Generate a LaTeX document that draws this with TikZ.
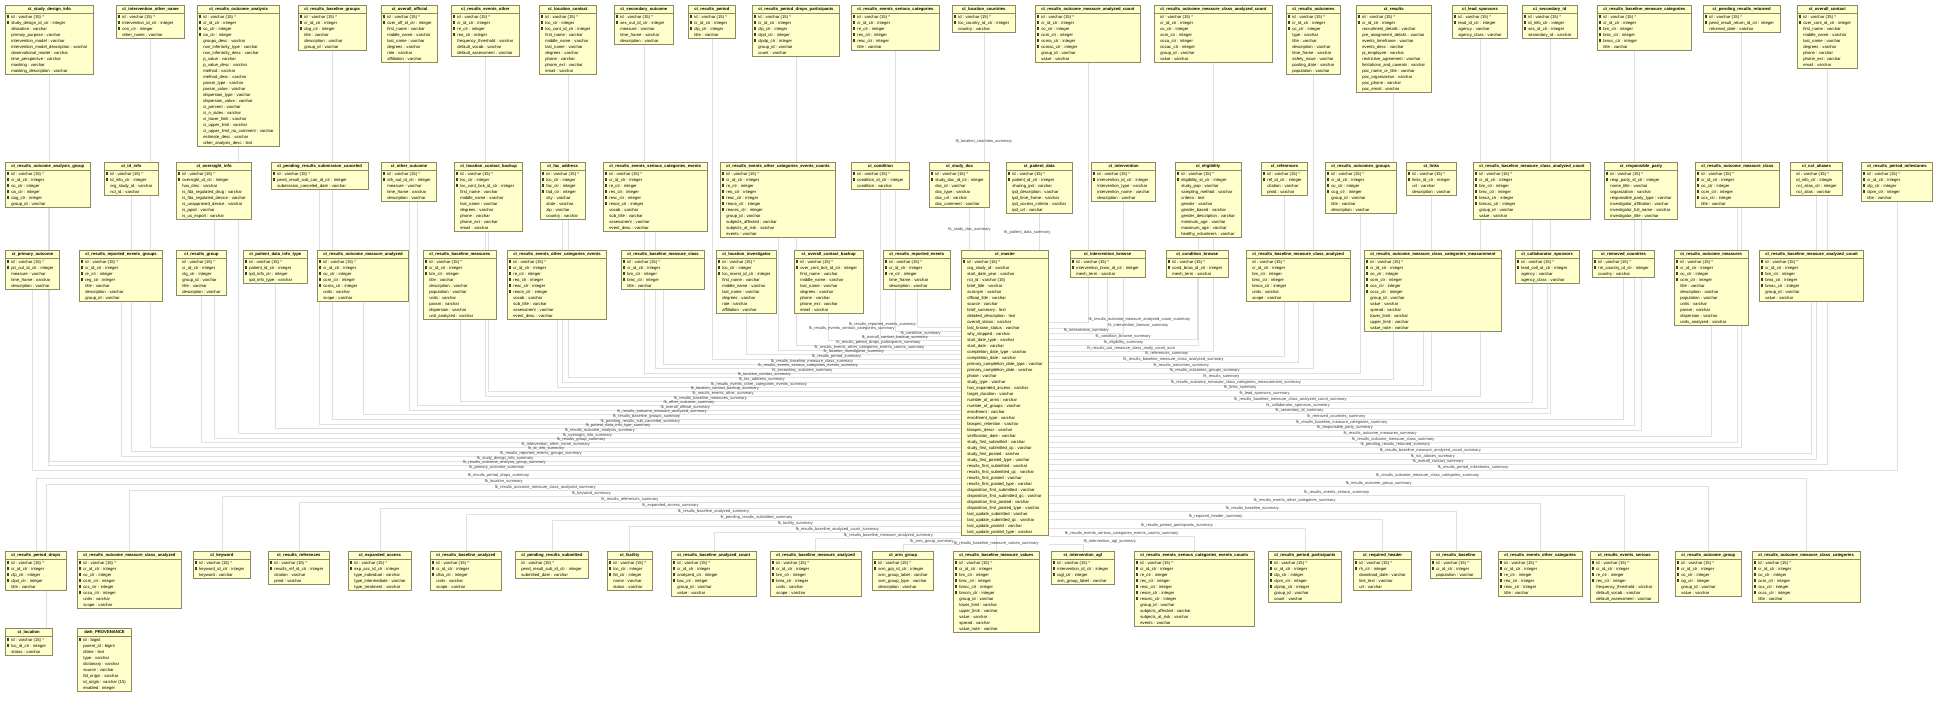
\documentclass[tikz,border=0pt]{standalone}
\usepackage{fontspec}
\setmainfont{Liberation Sans}
\usetikzlibrary{positioning}
\usetikzlibrary{shapes.multipart}
\usetikzlibrary{calc}

\definecolor{tblfill}{HTML}{FFFFCC}
\definecolor{tblline}{HTML}{8C8A5E}
\definecolor{fkline}{HTML}{E0E0E0}
\definecolor{fktext}{HTML}{3C3C3C}

\pgfdeclarelayer{back}
\pgfdeclarelayer{lines}
\pgfsetlayers{back,lines,main}

\newcommand{\dbtable}[5]{%
  \node[entity] (#1) at (#2) {\begin{tabular}{@{}c@{}}\bfseries #3\end{tabular}\nodepart{two}\begin{tabular}{@{}l@{}}#5\end{tabular}};
  \ifnum#4>0
    \foreach \nk in {1,...,#4} {\fill[keymark] ($(#1.text split west)+(2.2,1.6+6*\nk-6)$) rectangle ++(1.4,3.2);}
  \fi
}
\newcommand{\fkw}[4][pos=0.75,anchor=south]{%
  \begin{pgfonlayer}{lines}
    \draw[connect] (#2) |- (master.west |- 0,#3);
  \end{pgfonlayer}
  \path (#2) |- (master.west |- 0,#3) node[fklabel,#1] {#4};
}
\newcommand{\fke}[4][pos=0.75,anchor=south]{%
  \begin{pgfonlayer}{lines}
    \draw[connect] (#2) |- (master.east |- 0,#3);
  \end{pgfonlayer}
  \path (#2) |- (master.east |- 0,#3) node[fklabel,#1] {#4};
}

\begin{document}
\catcode`\_=12
\begin{tikzpicture}[x=1pt,y=-1pt]
  \tikzstyle{entity}=[
      rectangle split, rectangle split parts=2
    , rectangle split part align={center,left}
    , draw = tblline, fill = tblfill, line width = 0.7pt
    , anchor = north west, inner xsep = 6pt, inner ysep = 0.5pt
    , font = \fontsize{4.2}{6}\selectfont
    ]
  \tikzstyle{keymark}=[fill = black!75]
  \tikzstyle{connect}=[draw = fkline, line width = 0.5pt]
  \tikzstyle{fklabel}=[font = \fontsize{4}{5}\selectfont, text = fktext, inner sep = 0.6pt]

  \begin{pgfonlayer}{back}
    \fill[white] (0,0) rectangle (1936,706);
  \end{pgfonlayer}
  \useasboundingbox (0,0) rectangle (1936,706);

  % first row
  \dbtable{sdi}{5,5}{ct_study_design_info}{2}{id : varchar (15) *\\study_design_id_ctr : integer\\allocation : varchar\\primary_purpose : varchar\\intervention_model : varchar\\intervention_model_description : varchar\\observational_model : varchar\\time_perspective : varchar\\masking : varchar\\masking_description : varchar}
  \dbtable{ion}{116,5}{ct_intervention_other_name}{3}{id : varchar (15) *\\intervention_id_ctr : integer\\con_ctr : integer\\other_name : varchar}
  \dbtable{roa}{197,5}{ct_results_outcome_analysis}{4}{id : varchar (15) *\\cr_id_ctr : integer\\oc_ctr : integer\\oa_ctr : integer\\groups_desc : varchar\\non_inferiority_type : varchar\\non_inferiority_desc : varchar\\p_value : varchar\\p_value_desc : varchar\\method : varchar\\method_desc : varchar\\param_type : varchar\\param_value : varchar\\dispersion_type : varchar\\dispersion_value : varchar\\ci_percent : varchar\\ci_n_sides : varchar\\ci_lower_limit : varchar\\ci_upper_limit : varchar\\ci_upper_limit_na_comment : varchar\\estimate_desc : varchar\\other_analysis_desc : text}
  \dbtable{rbg}{298,5}{ct_results_baseline_groups}{3}{id : varchar (15) *\\cr_id_ctr : integer\\cbg_ctr : integer\\title : varchar\\description : varchar\\group_id : varchar}
  \dbtable{oo}{381,5}{ct_overall_official}{2}{id : varchar (15) *\\over_off_id_ctr : integer\\first_name : varchar\\middle_name : varchar\\last_name : varchar\\degrees : varchar\\role : varchar\\affiliation : varchar}
  \dbtable{reo}{451,5}{ct_results_events_other}{4}{id : varchar (15) *\\cr_id_ctr : integer\\re_ctr : integer\\reo_ctr : integer\\frequency_threshold : varchar\\default_vocab : varchar\\default_assessment : varchar}
  \dbtable{lc}{539,5}{ct_location_contact}{3}{id : varchar (15) *\\loc_ctr : integer\\loc_cont_id_ctr : integer\\first_name : varchar\\middle_name : varchar\\last_name : varchar\\degrees : varchar\\phone : varchar\\phone_ext : varchar\\email : varchar}
  \dbtable{so}{614,5}{ct_secondary_outcome}{2}{id : varchar (15) *\\sec_out_id_ctr : integer\\measure : varchar\\time_frame : varchar\\description : varchar}
  \dbtable{rp}{688,5}{ct_results_period}{3}{id : varchar (15) *\\cr_id_ctr : integer\\clp_ctr : integer\\title : varchar}
  \dbtable{rpdp}{752,5}{ct_results_period_drops_participants}{5}{id : varchar (15) *\\cr_id_ctr : integer\\clp_ctr : integer\\clpd_ctr : integer\\clpdp_ctr : integer\\group_id : varchar\\count : varchar}
  \dbtable{resc}{851,5}{ct_results_events_serious_categories}{5}{id : varchar (15) *\\cr_id_ctr : integer\\re_ctr : integer\\res_ctr : integer\\resc_ctr : integer\\title : varchar}
  \dbtable{lco}{952,5}{ct_location_countries}{2}{id : varchar (15) *\\loc_country_id_ctr : integer\\country : varchar}
  \dbtable{romac}{1035,5}{ct_results_outcome_measure_analyzed_count}{6}{id : varchar (15) *\\cr_id_ctr : integer\\oc_ctr : integer\\ocm_ctr : integer\\ocma_ctr : integer\\ocmac_ctr : integer\\group_id : varchar\\value : varchar}
  \dbtable{romcac}{1154,5}{ct_results_outcome_measure_class_analyzed_count}{0}{id : varchar (15) *\\cr_id_ctr : integer\\oc_ctr : integer\\ocm_ctr : integer\\occa_ctr : integer\\occac_ctr : integer\\group_id : varchar\\value : varchar}
  \dbtable{ro}{1286,5}{ct_results_outcomes}{3}{id : varchar (15) *\\cr_id_ctr : integer\\oc_ctr : integer\\type : varchar\\title : varchar\\description : varchar\\time_frame : varchar\\safety_issue : varchar\\posting_date : varchar\\population : varchar}
  \dbtable{res}{1356,5}{ct_results}{2}{id : varchar (15) *\\cr_id_ctr : integer\\recruitment_details : varchar\\pre_assignment_details : varchar\\events_timeframe : varchar\\events_desc : varchar\\pi_employee : varchar\\restrictive_agreement : varchar\\limitations_and_caveats : varchar\\poc_name_or_title : varchar\\poc_organization : varchar\\poc_phone : varchar\\poc_email : varchar}
  \dbtable{ls}{1452,5}{ct_lead_sponsors}{2}{id : varchar (15) *\\lead_id_ctr : integer\\agency : varchar\\agency_class : varchar}
  \dbtable{sid}{1522,5}{ct_secondary_id}{3}{id : varchar (15) *\\id_info_ctr : integer\\sec_id_ctr : integer\\secondary_id : varchar}
  \dbtable{rbmc}{1597,5}{ct_results_baseline_measure_categories}{5}{id : varchar (15) *\\cr_id_ctr : integer\\bm_ctr : integer\\bmc_ctr : integer\\bmcc_ctr : integer\\title : varchar}
  \dbtable{prr}{1703,5}{ct_pending_results_returned}{2}{id : varchar (15) *\\pend_result_return_id_ctr : integer\\returned_date : varchar}
  \dbtable{oc}{1797,5}{ct_overall_contact}{2}{id : varchar (15) *\\over_cont_id_ctr : integer\\first_name : varchar\\middle_name : varchar\\last_name : varchar\\degrees : varchar\\phone : varchar\\phone_ext : varchar\\email : varchar}

  % second row
  \dbtable{roag}{5,162}{ct_results_outcome_analysis_group}{5}{id : varchar (15) *\\cr_id_ctr : integer\\oc_ctr : integer\\oa_ctr : integer\\oag_ctr : integer\\group_id : varchar}
  \dbtable{idi}{104,162}{ct_id_info}{2}{id : varchar (15) *\\id_info_ctr : integer\\org_study_id : varchar\\nct_id : varchar}
  \dbtable{ovi}{176,162}{ct_oversight_info}{2}{id : varchar (15) *\\oversight_id_ctr : integer\\has_dmc : varchar\\is_fda_regulated_drug : varchar\\is_fda_regulated_device : varchar\\is_unapproved_device : varchar\\is_ppsd : varchar\\is_us_export : varchar}
  \dbtable{prsc}{271,162}{ct_pending_results_submission_canceled}{2}{id : varchar (15) *\\pend_result_sub_can_id_ctr : integer\\submission_canceled_date : varchar}
  \dbtable{oth}{381,162}{ct_other_outcome}{2}{id : varchar (15) *\\oth_out_id_ctr : integer\\measure : varchar\\time_frame : varchar\\description : varchar}
  \dbtable{lcb}{454,162}{ct_location_contact_backup}{3}{id : varchar (15) *\\loc_ctr : integer\\loc_cont_bck_id_ctr : integer\\first_name : varchar\\middle_name : varchar\\last_name : varchar\\degrees : varchar\\phone : varchar\\phone_ext : varchar\\email : varchar}
  \dbtable{fad}{540,162}{ct_fac_address}{4}{id : varchar (15) *\\loc_ctr : integer\\fac_ctr : integer\\fad_ctr : integer\\city : varchar\\state : varchar\\zip : varchar\\country : varchar}
  \dbtable{resce}{603,162}{ct_results_events_serious_categories_events}{6}{id : varchar (15) *\\cr_id_ctr : integer\\re_ctr : integer\\res_ctr : integer\\resc_ctr : integer\\resce_ctr : integer\\vocab : varchar\\sub_title : varchar\\assessment : varchar\\event_desc : varchar}
  \dbtable{reocec}{720,162}{ct_results_events_other_categories_events_counts}{7}{id : varchar (15) *\\cr_id_ctr : integer\\re_ctr : integer\\reo_ctr : integer\\reoc_ctr : integer\\reoce_ctr : integer\\reocec_ctr : integer\\group_id : varchar\\subjects_affected : varchar\\subjects_at_risk : varchar\\events : varchar}
  \dbtable{cond}{851,162}{ct_condition}{2}{id : varchar (15) *\\condition_id_ctr : integer\\condition : varchar}
  \dbtable{sdoc}{929,162}{ct_study_doc}{2}{id : varchar (15) *\\study_doc_id_ctr : integer\\doc_id : varchar\\doc_type : varchar\\doc_url : varchar\\doc_comment : varchar}
  \dbtable{pd}{1006,162}{ct_patient_data}{2}{id : varchar (15) *\\patient_id_ctr : integer\\sharing_ipd : varchar\\ipd_description : varchar\\ipd_time_frame : varchar\\ipd_access_criteria : varchar\\ipd_url : varchar}
  \dbtable{intv}{1091,162}{ct_intervention}{2}{id : varchar (15) *\\intervention_id_ctr : integer\\intervention_type : varchar\\intervention_name : varchar\\description : varchar}
  \dbtable{elig}{1175,162}{ct_eligibility}{2}{id : varchar (15) *\\eligibility_id_ctr : integer\\study_pop : varchar\\sampling_method : varchar\\criteria : text\\gender : varchar\\gender_based : varchar\\gender_description : varchar\\minimum_age : varchar\\maximum_age : varchar\\healthy_volunteers : varchar}
  \dbtable{refs}{1261,162}{ct_references}{2}{id : varchar (15) *\\ref_id_ctr : integer\\citation : varchar\\pmid : varchar}
  \dbtable{rog}{1325,162}{ct_results_outcomes_groups}{4}{id : varchar (15) *\\cr_id_ctr : integer\\oc_ctr : integer\\ocg_ctr : integer\\group_id : varchar\\title : varchar\\description : varchar}
  \dbtable{lnk}{1406,162}{ct_links}{2}{id : varchar (15) *\\links_id_ctr : integer\\url : varchar\\description : varchar}
  \dbtable{rbmcac}{1473,162}{ct_results_baseline_measure_class_analyzed_count}{6}{id : varchar (15) *\\cr_id_ctr : integer\\bm_ctr : integer\\bmc_ctr : integer\\bmca_ctr : integer\\bmcac_ctr : integer\\group_id : varchar\\value : varchar}
  \dbtable{rpty}{1604,162}{ct_responsible_party}{2}{id : varchar (15) *\\resp_party_id_ctr : integer\\name_title : varchar\\organization : varchar\\responsible_party_type : varchar\\investigator_affiliation : varchar\\investigator_full_name : varchar\\investigator_title : varchar}
  \dbtable{romc}{1695,162}{ct_results_outcome_measure_class}{5}{id : varchar (15) *\\cr_id_ctr : integer\\oc_ctr : integer\\ocm_ctr : integer\\occ_ctr : integer\\title : varchar}
  \dbtable{nal}{1790,162}{ct_nct_aliases}{0}{id : varchar (15) *\\id_info_ctr : integer\\nct_alias_ctr : integer\\nct_alias : varchar}
  \dbtable{rpm}{1861,162}{ct_results_period_milestones}{4}{id : varchar (15) *\\cr_id_ctr : integer\\clp_ctr : integer\\clpm_ctr : integer\\title : varchar}

  % third row
  \dbtable{po}{5,250}{ct_primary_outcome}{2}{id : varchar (15) *\\pri_out_id_ctr : integer\\measure : varchar\\time_frame : varchar\\description : varchar}
  \dbtable{rreg}{79,250}{ct_results_reported_events_groups}{4}{id : varchar (15) *\\cr_id_ctr : integer\\re_ctr : integer\\reg_ctr : integer\\title : varchar\\description : varchar\\group_id : varchar}
  \dbtable{rgrp}{176,250}{ct_results_group}{0}{id : varchar (15) *\\cr_id_ctr : integer\\clg_ctr : integer\\group_id : varchar\\title : varchar\\description : varchar}
  \dbtable{pdit}{243,250}{ct_patient_data_info_type}{3}{id : varchar (15) *\\patient_id_ctr : integer\\ipd_info_ctr : integer\\ipd_info_type : varchar}
  \dbtable{roma}{317,250}{ct_results_outcome_measure_analyzed}{5}{id : varchar (15) *\\cr_id_ctr : integer\\oc_ctr : integer\\ocm_ctr : integer\\ocma_ctr : integer\\units : varchar\\scope : varchar}
  \dbtable{rbm}{423,250}{ct_results_baseline_measures}{3}{id : varchar (15) *\\cr_id_ctr : integer\\bm_ctr : integer\\title : varchar\\description : varchar\\population : varchar\\units : varchar\\param : varchar\\dispersion : varchar\\unit_analyzed : varchar}
  \dbtable{reoce}{507,250}{ct_results_events_other_categories_events}{6}{id : varchar (15) *\\cr_id_ctr : integer\\re_ctr : integer\\reo_ctr : integer\\reoc_ctr : integer\\reoce_ctr : integer\\vocab : varchar\\sub_title : varchar\\assessment : varchar\\event_desc : varchar}
  \dbtable{rbmcl}{621,250}{ct_results_baseline_measure_class}{4}{id : varchar (15) *\\cr_id_ctr : integer\\bm_ctr : integer\\bmc_ctr : integer\\title : varchar}
  \dbtable{linv}{716,250}{ct_location_investigator}{3}{id : varchar (15) *\\loc_ctr : integer\\loc_invest_id_ctr : integer\\first_name : varchar\\middle_name : varchar\\last_name : varchar\\degrees : varchar\\role : varchar\\affiliation : varchar}
  \dbtable{ocb}{794,250}{ct_overall_contact_backup}{2}{id : varchar (15) *\\over_cont_bck_id_ctr : integer\\first_name : varchar\\middle_name : varchar\\last_name : varchar\\degrees : varchar\\phone : varchar\\phone_ext : varchar\\email : varchar}
  \dbtable{rre}{883,250}{ct_results_reported_events}{3}{id : varchar (15) *\\cr_id_ctr : integer\\re_ctr : integer\\time_frame : varchar\\description : varchar}
  \dbtable{master}{961,250}{ct_master}{1}{id : varchar (15) *\\org_study_id : varchar\\start_date_year : varchar\\nct_id : varchar (15)\\brief_title : varchar\\acronym : varchar\\official_title : varchar\\source : varchar\\brief_summary : text\\detailed_description : text\\overall_status : varchar\\last_known_status : varchar\\why_stopped : varchar\\start_date_type : varchar\\start_date : varchar\\completion_date_type : varchar\\completion_date : varchar\\primary_completion_date_type : varchar\\primary_completion_date : varchar\\phase : varchar\\study_type : varchar\\has_expanded_access : varchar\\target_duration : varchar\\number_of_arms : varchar\\number_of_groups : varchar\\enrollment : varchar\\enrollment_type : varchar\\biospec_retention : varchar\\biospec_descr : varchar\\verification_date : varchar\\study_first_submitted : varchar\\study_first_submitted_qc : varchar\\study_first_posted : varchar\\study_first_posted_type : varchar\\results_first_submitted : varchar\\results_first_submitted_qc : varchar\\results_first_posted : varchar\\results_first_posted_type : varchar\\disposition_first_submitted : varchar\\disposition_first_submitted_qc : varchar\\disposition_first_posted : varchar\\disposition_first_posted_type : varchar\\last_update_submitted : varchar\\last_update_submitted_qc : varchar\\last_update_posted : varchar\\last_update_posted_type : varchar}
  \dbtable{ib}{1070,250}{ct_intervention_browse}{2}{id : varchar (15) *\\intervention_brow_id_ctr : integer\\mesh_term : varchar}
  \dbtable{cb}{1166,250}{ct_condition_browse}{2}{id : varchar (15) *\\cond_brow_id_ctr : integer\\mesh_term : varchar}
  \dbtable{rbmca}{1246,250}{ct_results_baseline_measure_class_analyzed}{0}{id : varchar (15) *\\cr_id_ctr : integer\\bm_ctr : integer\\bmc_ctr : integer\\bmca_ctr : integer\\units : varchar\\scope : varchar}
  \dbtable{romccm}{1364,250}{ct_results_outcome_measure_class_categories_measurement}{6}{id : varchar (15) *\\cr_id_ctr : integer\\oc_ctr : integer\\ocm_ctr : integer\\occ_ctr : integer\\occc_ctr : integer\\group_id : varchar\\value : varchar\\spread : varchar\\lower_limit : varchar\\upper_limit : varchar\\value_note : varchar}
  \dbtable{csp}{1515,250}{ct_collaborator_sponsors}{2}{id : varchar (15) *\\lead_coll_id_ctr : integer\\agency : varchar\\agency_class : varchar}
  \dbtable{rmc}{1592,250}{ct_removed_countries}{2}{id : varchar (15) *\\rm_country_id_ctr : integer\\country : varchar}
  \dbtable{rom}{1674,250}{ct_results_outcome_measures}{4}{id : varchar (15) *\\cr_id_ctr : integer\\oc_ctr : integer\\ocm_ctr : integer\\title : varchar\\description : varchar\\population : varchar\\units : varchar\\param : varchar\\dispersion : varchar\\units_analyzed : varchar}
  \dbtable{rbmac}{1759,250}{ct_results_baseline_measure_analyzed_count}{5}{id : varchar (15) *\\cr_id_ctr : integer\\bm_ctr : integer\\bma_ctr : integer\\bmac_ctr : integer\\group_id : varchar\\value : varchar}

  % fourth row
  \dbtable{rpd}{5,551}{ct_results_period_drops}{4}{id : varchar (15) *\\cr_id_ctr : integer\\clp_ctr : integer\\clpd_ctr : integer\\title : varchar}
  \dbtable{romca}{77,551}{ct_results_outcome_measure_class_analyzed}{6}{id : varchar (15) *\\cr_id_ctr : integer\\oc_ctr : integer\\ocm_ctr : integer\\occ_ctr : integer\\occa_ctr : integer\\units : varchar\\scope : varchar}
  \dbtable{kw}{193,551}{ct_keyword}{2}{id : varchar (15) *\\keyword_id_ctr : integer\\keyword : varchar}
  \dbtable{rref}{268,551}{ct_results_references}{2}{id : varchar (15) *\\results_ref_id_ctr : integer\\citation : varchar\\pmid : varchar}
  \dbtable{ea}{348,551}{ct_expanded_access}{2}{id : varchar (15) *\\exp_acc_id_ctr : integer\\type_individual : varchar\\type_intermediate : varchar\\type_treatment : varchar}
  \dbtable{rba}{430,551}{ct_results_baseline_analyzed}{3}{id : varchar (15) *\\cr_id_ctr : integer\\clba_ctr : integer\\units : varchar\\scope : varchar}
  \dbtable{prs}{515,551}{ct_pending_results_submitted}{0}{id : varchar (15) *\\pend_result_sub_id_ctr : integer\\submitted_date : varchar}
  \dbtable{fac}{607,551}{ct_facility}{3}{id : varchar (15) *\\loc_ctr : integer\\fid_ctr : integer\\name : varchar\\status : varchar}
  \dbtable{rbac}{671,551}{ct_results_baseline_analyzed_count}{4}{id : varchar (15) *\\cr_id_ctr : integer\\analyzed_ctr : integer\\bac_ctr : integer\\group_id : varchar\\value : varchar}
  \dbtable{rbma}{770,551}{ct_results_baseline_measure_analyzed}{4}{id : varchar (15) *\\cr_id_ctr : integer\\bm_ctr : integer\\bma_ctr : integer\\units : varchar\\scope : varchar}
  \dbtable{ag}{872,551}{ct_arm_group}{2}{id : varchar (15) *\\arm_grp_id_ctr : integer\\arm_group_label : varchar\\arm_group_type : varchar\\description : varchar}
  \dbtable{rbmv}{953,551}{ct_results_baseline_measure_values}{6}{id : varchar (15) *\\cr_id_ctr : integer\\bm_ctr : integer\\bmc_ctr : integer\\bmcc_ctr : integer\\bmcm_ctr : integer\\group_id : varchar\\lower_limit : varchar\\upper_limit : varchar\\value : varchar\\spread : varchar\\value_note : varchar}
  \dbtable{iagl}{1051,551}{ct_intervention_agl}{3}{id : varchar (15) *\\intervention_id_ctr : integer\\iagl_ctr : integer\\arm_group_label : varchar}
  \dbtable{rescec}{1134,551}{ct_results_events_serious_categories_events_counts}{7}{id : varchar (15) *\\cr_id_ctr : integer\\re_ctr : integer\\res_ctr : integer\\resc_ctr : integer\\resce_ctr : integer\\rescec_ctr : integer\\group_id : varchar\\subjects_affected : varchar\\subjects_at_risk : varchar\\events : varchar}
  \dbtable{rpp}{1268,551}{ct_results_period_participants}{5}{id : varchar (15) *\\cr_id_ctr : integer\\clp_ctr : integer\\clpm_ctr : integer\\clpmp_ctr : integer\\group_id : varchar\\count : varchar}
  \dbtable{rh}{1353,551}{ct_required_header}{2}{id : varchar (15) *\\rh_ctr : integer\\download_date : varchar\\link_text : varchar\\url : varchar}
  \dbtable{rbl}{1430,551}{ct_results_baseline}{2}{id : varchar (15) *\\cr_id_ctr : integer\\population : varchar}
  \dbtable{reoc}{1498,551}{ct_results_events_other_categories}{5}{id : varchar (15) *\\cr_id_ctr : integer\\re_ctr : integer\\reo_ctr : integer\\reoc_ctr : integer\\title : varchar}
  \dbtable{rese}{1590,551}{ct_results_events_serious}{4}{id : varchar (15) *\\cr_id_ctr : integer\\re_ctr : integer\\res_ctr : integer\\frequency_threshold : varchar\\default_vocab : varchar\\default_assessment : varchar}
  \dbtable{rogp}{1675,551}{ct_results_outcome_group}{4}{id : varchar (15) *\\cr_id_ctr : integer\\oc_ctr : integer\\og_ctr : integer\\group_id : varchar\\value : varchar}
  \dbtable{romcc}{1752,551}{ct_results_outcome_measure_class_categories}{6}{id : varchar (15) *\\cr_id_ctr : integer\\oc_ctr : integer\\ocm_ctr : integer\\occ_ctr : integer\\occc_ctr : integer\\title : varchar}

  % fifth row
  \dbtable{loc}{5,628}{ct_location}{2}{id : varchar (15) *\\loc_id_ctr : integer\\status : varchar}
  \dbtable{prov}{77,628}{dwh_PROVENANCE}{1}{id : bigint\\parent_id : bigint\\dtime : text\\type : varchar\\dictionary : varchar\\source : varchar\\tbl_origin : varchar\\id_origin : varchar (15)\\enabled : integer}

  % foreign keys, left of ct_master
  \fkw{po.south}{470}{fk_primary_outcome_summary}
  \fkw{roag.south}{465}{fk_results_outcome_analysis_group_summary}
  \fkw{sdi.south}{461}{fk_study_design_info_summary}
  \fkw{rreg.south}{456}{fk_results_reported_events_groups_summary}
  \fkw{idi.south}{451}{fk_id_info_summary}
  \fkw{ion.south}{447}{fk_intervention_other_name_summary}
  \fkw{rgrp.south}{442}{fk_results_group_summary}
  \fkw{ovi.south}{438}{fk_oversight_info_summary}
  \fkw{roa.south}{433}{fk_results_outcome_analysis_summary}
  \fkw{pdit.south}{428}{fk_patient_data_info_type_summary}
  \fkw{prsc.south}{424}{fk_pending_results_sub_canceled_summary}
  \fkw{rbg.south}{419}{fk_results_baseline_groups_summary}
  \fkw{roma.south}{414}{fk_results_outcome_measure_analyzed_summary}
  \fkw{oo.south}{410}{fk_overall_official_summary}
  \fkw{[xshift=8]oth.south}{405}{fk_other_outcome_summary}
  \fkw{rbm.south}{401}{fk_results_baseline_measures_summary}
  \fkw{reo.south}{396}{fk_results_events_other_summary}
  \fkw{lcb.south}{391}{fk_location_contact_backup_summary}
  \fkw{reoce.south}{387}{fk_results_events_other_categories_events_summary}
  \fkw{fad.south}{382}{fk_fac_address_summary}
  \fkw{lc.south}{377}{fk_location_contact_summary}
  \fkw{so.south}{373}{fk_secondary_outcome_summary}
  \fkw{resce.south}{368}{fk_results_events_serious_categories_events_summary}
  \fkw{rbmcl.south}{364}{fk_results_baseline_measure_class_summary}
  \fkw{rp.south}{359}{fk_results_period_summary}
  \fkw{linv.south}{354}{fk_location_investigator_summary}
  \fkw{reocec.south}{350}{fk_results_events_other_categories_events_counts_summary}
  \fkw{rpdp.south}{345}{fk_results_period_drops_participants_summary}
  \fkw{ocb.south}{340}{fk_overall_contact_backup_summary}
  \fkw{cond.south}{336}{fk_condition_summary}
  \fkw[pos=0.5,anchor=south east]{resc.south}{331}{fk_results_events_serious_categories_summary}
  \fkw[pos=0.5,anchor=south east]{rre.south}{327}{fk_results_reported_events_summary}
  \fkw{rpd.north}{478}{fk_results_period_drops_summary}
  \fkw{[xshift=18]loc.north}{484}{fk_location_summary}
  \fkw{romca.north}{490}{fk_results_outcome_measure_class_analyzed_summary}
  \fkw{kw.north}{496}{fk_keyword_summary}
  \fkw{rref.north}{502}{fk_results_references_summary}
  \fkw{ea.north}{508}{fk_expanded_access_summary}
  \fkw{rba.north}{514}{fk_results_baseline_analyzed_summary}
  \fkw{prs.north}{520}{fk_pending_results_submitted_summary}
  \fkw{fac.north}{526}{fk_facility_summary}
  \fkw{rbac.north}{532}{fk_results_baseline_analyzed_count_summary}
  \fkw{rbma.north}{538}{fk_results_baseline_measure_analyzed_summary}
  \fkw{ag.north}{544}{fk_arm_group_summary}

  % foreign keys, right of ct_master
  \fke[pos=0.5,anchor=south west]{romac.south}{322}{fk_results_outcome_measure_analyzed_count_summary}
  \fke[pos=0.5,anchor=south west]{ib.south}{328}{fk_intervention_browse_summary}
  \fke{intv.south}{333}{fk_intervention_summary}
  \fke{cb.south}{339}{fk_condition_browse_summary}
  \fke{[xshift=-10]elig.south}{345}{fk_eligibility_summary}
  \fke{romcac.south}{351}{fk_results_out_measure_class_analy_count_sum}
  \fke{refs.south}{356}{fk_references_summary}
  \fke{rbmca.south}{362}{fk_results_baseline_measure_class_analyzed_summary}
  \fke{ro.south}{368}{fk_results_outcomes_summary}
  \fke{rog.south}{373}{fk_results_outcomes_groups_summary}
  \fke{res.south}{379}{fk_results_summary}
  \fke{[xshift=-10]romccm.south}{385}{fk_results_outcome_measure_class_categories_measurement_summary}
  \fke{lnk.south}{390}{fk_links_summary}
  \fke{ls.south}{396}{fk_lead_sponsors_summary}
  \fke{rbmcac.south}{402}{fk_results_baseline_measure_class_analyzed_count_summary}
  \fke{csp.south}{408}{fk_collaborator_sponsors_summary}
  \fke{sid.south}{413}{fk_secondary_id_summary}
  \fke{rmc.south}{419}{fk_removed_countries_summary}
  \fke{[xshift=-10]rbmc.south}{425}{fk_results_baseline_measure_categories_summary}
  \fke{rpty.south}{430}{fk_responsible_party_summary}
  \fke{rom.south}{436}{fk_results_outcome_measures_summary}
  \fke{romc.south}{442}{fk_results_outcome_measure_class_summary}
  \fke{prr.south}{447}{fk_pending_results_returned_summary}
  \fke{rbmac.south}{453}{fk_results_baseline_measure_analyzed_count_summary}
  \fke{nal.south}{459}{fk_nct_aliases_summary}
  \fke{oc.south}{464}{fk_overall_contact_summary}
  \fke{rpm.south}{470}{fk_results_period_milestones_summary}
  \fke[pos=0.5,anchor=south west]{iagl.north}{544}{fk_intervention_agl_summary}
  \fke{rescec.north}{536}{fk_results_events_serious_categories_events_counts_summary}
  \fke{rpp.north}{528}{fk_results_period_participants_summary}
  \fke{rh.north}{519}{fk_required_header_summary}
  \fke{rbl.north}{511}{fk_results_baseline_summary}
  \fke{reoc.north}{503}{fk_results_events_other_categories_summary}
  \fke{rese.north}{495}{fk_results_events_serious_summary}
  \fke{rogp.north}{486}{fk_results_outcome_group_summary}
  \fke{romcc.north}{478}{fk_results_outcome_measure_class_categories_summary}

  % foreign keys, above and below ct_master
  \begin{pgfonlayer}{lines}
    \draw[connect] (lco.south) -- (lco.south |- master.north);
    \draw[connect] ([xshift=10]sdoc.south) -- ([xshift=10]sdoc.south |- master.north);
    \draw[connect] (pd.south) -- (pd.south |- master.north);
    \draw[connect] (rbmv.north) -- (rbmv.north |- master.south);
  \end{pgfonlayer}
  \path (lco.south) -- (lco.south |- master.north) node[fklabel, pos=0.5] {fk_location_countries_summary};
  \path ([xshift=10]sdoc.south) -- ([xshift=10]sdoc.south |- master.north) node[fklabel, pos=0.5] {fk_study_doc_summary};
  \path (pd.south) -- (pd.south |- master.north) node[fklabel, pos=0.5, xshift=-12] {fk_patient_data_summary};
  \path (rbmv.north) -- (rbmv.north |- master.south) node[fklabel, pos=0.5] {fk_results_baseline_measure_values_summary};

\end{tikzpicture}
\end{document}
